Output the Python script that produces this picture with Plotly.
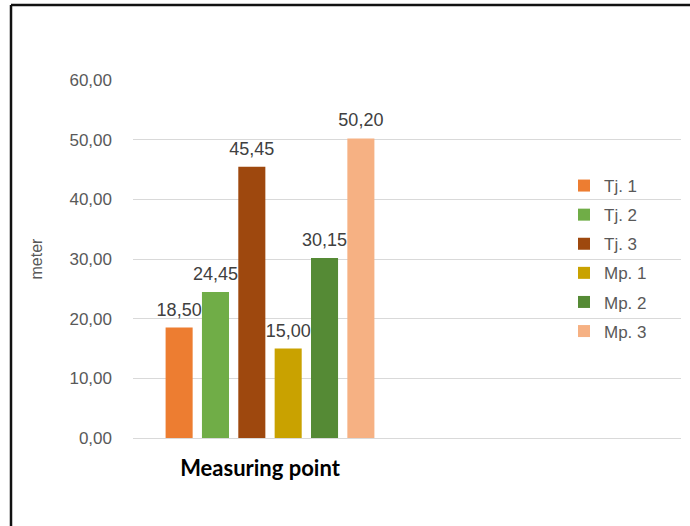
import plotly.graph_objects as go

# Measured distances (meter) at each point
category = ["Measuring point"]
series_names = ["Tj. 1", "Tj. 2", "Tj. 3", "Mp. 1", "Mp. 2", "Mp. 3"]
series_values = [18.50, 24.45, 45.45, 15.00, 30.15, 50.20]
series_colors = ["#ED7D31", "#70AD47", "#9E480E", "#C9A200", "#558A35", "#F6B183"]
y_ticks = [0, 10, 20, 30, 40, 50, 60]

W, H = 690, 526
ML, MR, MT, MB = 133, 9, 80, 88
PW, PH = W - ML - MR, H - MT - MB

FONT = "Liberation Sans, Arial"
LABEL_SIZE = 18


def px_x(x):
    return (x - ML) / PW


def px_y(y):
    return (H - MB - y) / PH


# value labels sit a little higher above the bars: tall invisible spaces pad the text box below
label_tpl = ("<span style='font-size:44px'> </span>%{y:.2f}"
             "<span style='font-size:44px'> </span>")

fig = go.Figure()
for i, (name, val, col) in enumerate(zip(series_names, series_values, series_colors)):
    fig.add_trace(go.Bar(
        x=category,
        y=[val],
        name=name,
        legendgroup=f"g{i}",
        marker=dict(color=col, line=dict(width=0)),
        texttemplate=label_tpl,
        textposition="outside",
        constraintext="none",
        textfont=dict(family=FONT, size=LABEL_SIZE, color="#404040"),
        cliponaxis=False,
    ))

# Frame lines along the top and left edges of the chart
frame = [
    dict(x0=px_x(11), x1=px_x(W), y0=px_y(5), y1=px_y(5)),
    dict(x0=px_x(11), x1=px_x(11), y0=px_y(5), y1=px_y(H)),
]
shapes = [dict(type="line", xref="paper", yref="paper", line=dict(color="#111111", width=2.5), **f)
          for f in frame]

fig.update_layout(
    width=W, height=H,
    margin=dict(l=ML, r=MR, t=MT, b=MB),
    paper_bgcolor="white", plot_bgcolor="white",
    separators=",.",
    barmode="group",
    bargap=0.204,
    bargroupgap=0.256,
    showlegend=True,
    legend=dict(
        x=px_x(564), y=px_y(168), xanchor="left", yanchor="top",
        font=dict(family=FONT, size=17, color="#595959"),
        traceorder="grouped", tracegroupgap=4,
        itemwidth=30, bgcolor="rgba(0,0,0,0)",
    ),
    shapes=shapes,
    xaxis=dict(
        range=[-0.5, 1.5],
        showgrid=False, zeroline=False, showline=False,
        ticks="", ticklabelstandoff=15, ticklabelshift=-10,
        tickfont=dict(family="Lato, Open Sans", size=22, color="#000000", weight="bold"),
    ),
    yaxis=dict(
        range=[0, 60],
        tickvals=y_ticks,
        tickformat=".2f",
        showgrid=True, gridcolor="#d9d9d9", gridwidth=1,
        zeroline=True, zerolinecolor="#d9d9d9", zerolinewidth=1,
        showline=False, ticks="", ticklabelstandoff=20,
        tickfont=dict(family=FONT, size=17, color="#595959"),
        title=dict(text="meter", standoff=22,
                   font=dict(family=FONT, size=16, color="#595959")),
    ),
)

fig.write_html("out.html")
